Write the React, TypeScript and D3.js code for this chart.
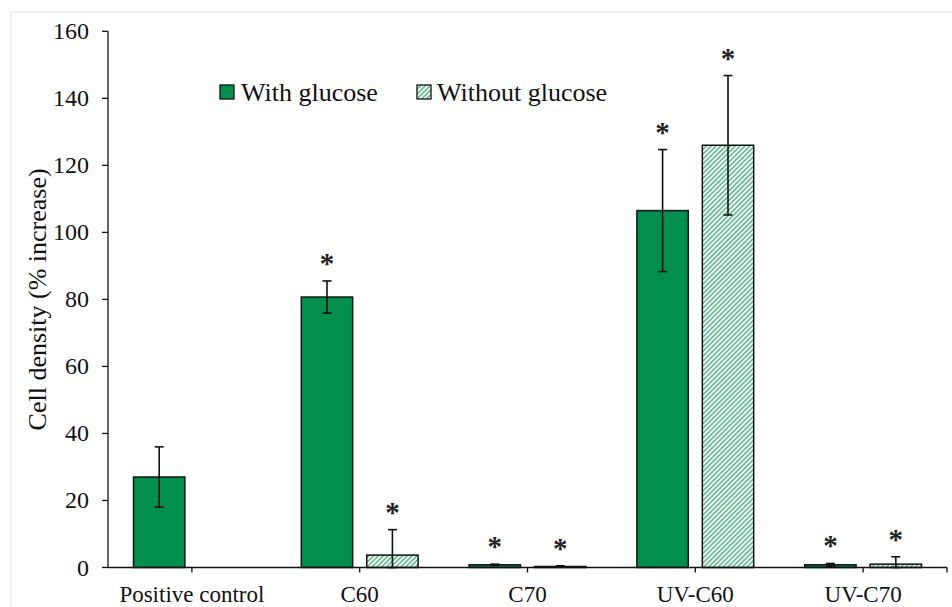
import React from "react";
import * as d3 from "d3";

const categories = ["Positive control", "C60", "C70", "UV-C60", "UV-C70"];
const series = ["With glucose", "Without glucose"];
const withGlucose = [27, 80.7, 0.8, 106.5, 0.8];
const withGlucoseErr = [9, 4.8, 0.2, 18.2, 0.4];
const withoutGlucose = [null, 3.7, 0.3, 126, 1.0];
const withoutGlucoseErr = [null, 7.6, 0.2, 20.8, 2.2];
const withSig = [false, true, true, true, true];
const withoutSig = [false, true, true, true, true];
const yTicks = [0, 20, 40, 60, 80, 100, 120, 140, 160];

const W = 952;
const H = 607;
const GREEN = "#008f4c";
const HATCH = "#4fb483";
const FONT = "'Liberation Serif', 'Times New Roman', serif";

export default function App() {
  const x = d3.scaleBand<string>().domain(categories).range([108, 947]).paddingInner(0).paddingOuter(0);
  const xi = d3.scaleBand<string>().domain(series).range([0, x.bandwidth()]).paddingInner(0.215).paddingOuter(0.39);
  const y = d3.scaleLinear().domain([0, 160]).range([567.5, 31.3]);

  const data = categories.map((c, i) => [
    { s: series[0], v: withGlucose[i], e: withGlucoseErr[i], sig: withSig[i] },
    { s: series[1], v: withoutGlucose[i], e: withoutGlucoseErr[i], sig: withoutSig[i] },
  ]);

  return (
    <svg width={W} height={H} style={{ position: "absolute", left: 0, top: 0, background: "#fff" }}>
      <defs>
        <pattern id="hatch" patternUnits="userSpaceOnUse" width="3.4" height="3.4" patternTransform="rotate(45)">
          <rect width="3.4" height="3.4" fill="#fff" />
          <line x1="1" y1="0" x2="1" y2="3.4" stroke={HATCH} strokeWidth="1.5" />
        </pattern>
      </defs>
      <rect x={0} y={0} width={W} height={H} fill="#fff" />
      <rect x={11} y={12} width={W} height={H} fill="none" stroke="#e2e2e2" strokeWidth={1} />

      {/* bars */}
      {categories.map((c, i) =>
        data[i].map((d) => {
          if (d.v == null) return null;
          const bx = (x(c) as number) + (xi(d.s) as number);
          const bw = xi.bandwidth();
          const top = y(d.v);
          const cx = bx + bw / 2;
          const eTop = y(d.v + (d.e as number));
          const eBot = y(Math.max(0, d.v - (d.e as number)));
          return (
            <g key={c + d.s}>
              <rect x={bx} y={top} width={bw} height={y(0) - top} fill={d.s === series[0] ? GREEN : "url(#hatch)"} stroke="#111" strokeWidth={1.5} />
              <line x1={cx} x2={cx} y1={eTop} y2={eBot} stroke="#111" strokeWidth={1.6} />
              <line x1={cx - 4.5} x2={cx + 4.5} y1={eTop} y2={eTop} stroke="#111" strokeWidth={1.6} />
              <line x1={cx - 4.5} x2={cx + 4.5} y1={eBot} y2={eBot} stroke="#111" strokeWidth={1.6} />
              {d.sig && (
                <text x={cx} y={eTop - 21 + 13} textAnchor="middle" fontFamily={FONT} fontSize={29} fontWeight="bold" fill="#222">
                  *
                </text>
              )}
            </g>
          );
        })
      )}

      {/* y axis */}
      <line x1={108} x2={108} y1={y(160)} y2={y(0)} stroke="#111" strokeWidth={1.3} />
      {yTicks.map((t) => (
        <g key={t}>
          <line x1={102} x2={108} y1={y(t)} y2={y(t)} stroke="#111" strokeWidth={1.3} />
          <text x={89} y={y(t) + 8} textAnchor="end" fontFamily={FONT} fontSize={24} fill="#111">
            {t}
          </text>
        </g>
      ))}
      <text transform={`translate(46, ${y(80)}) rotate(-90)`} textAnchor="middle" fontFamily={FONT} fontSize={26} fill="#111">
        Cell density (% increase)
      </text>

      {/* x axis */}
      <line x1={108} x2={947} y1={y(0)} y2={y(0)} stroke="#111" strokeWidth={1.3} />
      {categories.map((c) => {
        const cx = (x(c) as number) + x.bandwidth() / 2;
        return (
          <g key={c}>
            <line x1={cx} x2={cx} y1={y(0)} y2={y(0) + 5} stroke="#111" strokeWidth={1.3} />
            <text x={cx} y={602} textAnchor="middle" fontFamily={FONT} fontSize={23} fill="#111">
              {c}
            </text>
          </g>
        );
      })}
      <line x1={947} x2={947} y1={y(0)} y2={y(0) + 5} stroke="#111" strokeWidth={1.3} />

      {/* legend */}
      <g>
        <rect x={220} y={85} width={14} height={14} fill={GREEN} stroke="#111" strokeWidth={1.3} />
        <text x={241} y={101} fontFamily={FONT} fontSize={26} fill="#111">
          {series[0]}
        </text>
        <rect x={417} y={85} width={14} height={14} fill="url(#hatch)" stroke="#111" strokeWidth={1.3} />
        <text x={437} y={101} fontFamily={FONT} fontSize={26} fill="#111">
          {series[1]}
        </text>
      </g>
    </svg>
  );
}
